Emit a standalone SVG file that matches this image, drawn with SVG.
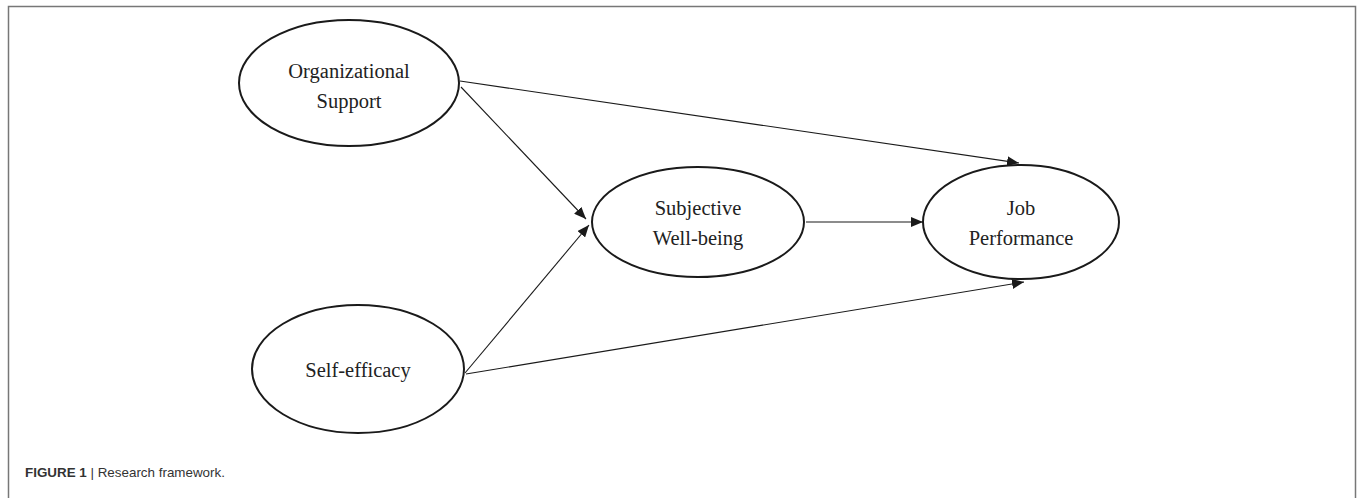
<svg xmlns="http://www.w3.org/2000/svg" width="1358" height="498" viewBox="0 0 1358 498">
<style>
.node ellipse{fill:#fff;stroke:#1a1a1a;stroke-width:2}
.node text{font-family:"Liberation Serif","Times New Roman",serif;font-size:20.5px;fill:#222;text-anchor:middle}
.edges line{stroke:#1a1a1a;stroke-width:1.1;marker-end:url(#ah)}
.cap{font-family:"Liberation Sans",Arial,sans-serif;font-size:13.4px;fill:#333}
</style>
<defs>
<marker id="ah" viewBox="0 0 12 10" refX="12" refY="5" markerWidth="12" markerHeight="10" markerUnits="userSpaceOnUse" orient="auto">
<path d="M0,0 L12,5 L0,10 Z" fill="#1a1a1a"/>
</marker>
</defs>
<rect width="1358" height="498" fill="#fff"/>
<path d="M8.5,498 V6.5 H1355.5 V498" fill="none" stroke="#777" stroke-width="1.5"/>
<g class="edges">
<line x1="460" y1="81" x2="1019" y2="163"/>
<line x1="461" y1="87" x2="586" y2="219"/>
<line x1="465" y1="373" x2="589" y2="225"/>
<line x1="466" y1="374" x2="1024" y2="282"/>
<line x1="806" y1="222" x2="923" y2="222"/>
</g>
<g id="organizational-support" class="node">
<ellipse cx="349" cy="83" rx="110" ry="63"/>
<text x="349" y="78">Organizational</text>
<text x="349" y="108">Support</text>
</g>
<g id="subjective-well-being" class="node">
<ellipse cx="698" cy="222" rx="106" ry="55"/>
<text x="698" y="215">Subjective</text>
<text x="698" y="245">Well-being</text>
</g>
<g id="job-performance" class="node">
<ellipse cx="1021" cy="222" rx="98" ry="57"/>
<text x="1021" y="215">Job</text>
<text x="1021" y="245">Performance</text>
</g>
<g id="self-efficacy" class="node">
<ellipse cx="358" cy="369" rx="106" ry="64"/>
<text x="358" y="377">Self-efficacy</text>
</g>
<text class="cap" x="25" y="477"><tspan font-weight="bold">FIGURE 1</tspan> | Research framework.</text>
</svg>
